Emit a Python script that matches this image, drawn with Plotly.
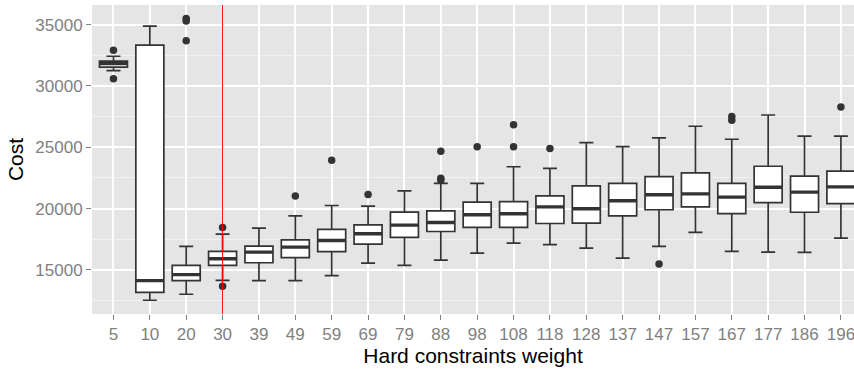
import plotly.graph_objects as go

# ---- data ----
weights = ["5", "10", "20", "30", "39", "49", "59", "69", "79", "88", "98",
           "108", "118", "128", "137", "147", "157", "167", "177", "186", "196"]
lower_whisker = [31240, 12520, 13010, 14150, 14120, 14120, 14530, 15550, 15370, 15800, 16370,
                 17180, 17050, 16770, 15960, 16910, 18050, 16500, 16450, 16420, 17580]
q1 = [31540, 13170, 14120, 15370, 15580, 16000, 16480, 17100, 17650, 18130, 18460,
      18460, 18780, 18810, 19400, 19900, 20140, 19590, 20490, 19700, 20400]
median = [31830, 14120, 14610, 15910, 16450, 16850, 17400, 17940, 18650, 18860, 19490,
          19570, 20140, 19980, 20630, 21120, 21200, 20930, 21740, 21340, 21770]
q3 = [32020, 33330, 15370, 16510, 16940, 17440, 18300, 18670, 19710, 19810, 20520,
      20570, 21030, 21850, 22060, 22600, 22910, 22060, 23450, 22640, 23050]
upper_whisker = [32420, 34880, 16910, 17920, 18400, 19400, 20250, 20190, 21440, 22060, 22060,
                 23410, 23280, 25380, 25050, 25760, 26710, 25650, 27630, 25900, 25900]

outlier_weights = ["5", "5", "20", "20", "20", "30", "30", "49", "59", "69",
                   "88", "88", "88", "98", "108", "108", "118", "147", "167", "167", "196"]
outlier_values = [32910, 30576, 35500, 35285, 33680, 18460, 13660, 21030, 23940, 21140,
                  24670, 22480, 22310, 25050, 26840, 25050, 24890, 15470, 27500, 27200, 28280]

highlight_weight = "30"

x_title = "Hard constraints weight"
y_title = "Cost"

# ---- style ----
DARK = "#333333"
GREY50 = "#7F7F7F"
FONT = "Liberation Sans, Arial, Helvetica, sans-serif"
BOX_W = 0.77

fig = go.Figure()

fig.add_trace(go.Box(
    x=weights, q1=q1, median=median, q3=q3,
    lowerfence=lower_whisker, upperfence=upper_whisker,
    fillcolor="white", line=dict(color=DARK, width=1.7),
    width=BOX_W, boxpoints=False, showlegend=False, hoverinfo="skip",
))
# thicker median bar (ggplot fatten)
fig.add_trace(go.Box(
    x=weights, q1=median, median=median, q3=median,
    lowerfence=median, upperfence=median,
    fillcolor=DARK, line=dict(color=DARK, width=3.4),
    width=BOX_W, boxpoints=False, showlegend=False, hoverinfo="skip",
))
fig.add_trace(go.Scatter(
    x=outlier_weights, y=outlier_values, mode="markers",
    marker=dict(color=DARK, size=7.5), showlegend=False, hoverinfo="skip",
))

fig.add_shape(type="line", xref="x", yref="paper",
              x0=weights.index(highlight_weight), x1=weights.index(highlight_weight),
              y0=0, y1=1, line=dict(color="red", width=1), layer="above")

fig.update_layout(
    width=854, height=372,
    margin=dict(l=92, r=0, t=5, b=58),
    paper_bgcolor="white", plot_bgcolor="#E5E5E5",
    boxmode="overlay",
    font=dict(family=FONT),
    xaxis=dict(
        type="category", range=[-0.59, 20.36],
        showgrid=True, gridcolor="white", gridwidth=1.6,
        ticks="outside", ticklen=5, tickcolor=GREY50, tickwidth=1,
        tickfont=dict(size=17, color=GREY50),
        title=dict(text=x_title, font=dict(size=21, color="black"), standoff=3),
        zeroline=False, showline=False,
    ),
    yaxis=dict(
        range=[11400, 36600], tick0=0, dtick=5000, tickformat="d",
        showgrid=True, gridcolor="white", gridwidth=1.6,
        minor=dict(dtick=2500, tick0=0, showgrid=True, gridcolor="#F2F2F2", gridwidth=0.8),
        ticks="outside", ticklen=5, tickcolor=GREY50, tickwidth=1,
        tickfont=dict(size=17, color=GREY50),
        title=dict(text=y_title, font=dict(size=21, color="black"), standoff=5),
        zeroline=False, showline=False,
    ),
)

fig.write_html(
    "out.html",
    config={"displayModeBar": False},
    post_script="document.body.style.margin='0';document.body.style.overflow='hidden';",
)
